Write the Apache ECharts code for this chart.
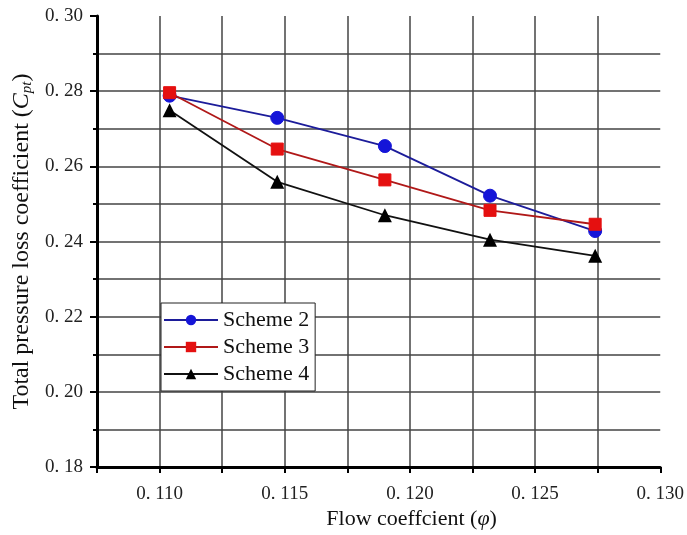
<!DOCTYPE html>
<html><head><meta charset="utf-8">
<script src="https://cdn.jsdelivr.net/npm/echarts@6/dist/echarts.min.js"></script>
<style>html,body{margin:0;padding:0;background:#fff}#c{width:687px;height:535px}</style>
</head><body><div id="c"></div>
<script>
var flowCoef = [0.1104, 0.1147, 0.1190, 0.1232, 0.1274];
var scheme2 = [0.2788, 0.2729, 0.2654, 0.2522, 0.2428];
var scheme3 = [0.2796, 0.2646, 0.2564, 0.2483, 0.2446];
var scheme4 = [0.2749, 0.2559, 0.2470, 0.2405, 0.2362];
var seriesNames = ['Scheme 2', 'Scheme 3', 'Scheme 4'];

function pairs(ys){ return flowCoef.map(function(x,i){ return [x, ys[i]]; }); }
var font = 'Liberation Serif';
var chart = echarts.init(document.getElementById('c'));
chart.setOption({
  animation: false,
  backgroundColor: '#fff',
  grid: {left: 97, right: 26, top: 16, bottom: 67},
  legend: {
    left: 161, top: 303, orient: 'vertical', itemWidth: 54, itemHeight: 13, itemGap: 5,
    padding: [6, 6, 6, 2], backgroundColor: '#fff', borderColor: '#222', borderWidth: 1,
    textStyle: {fontFamily: font, fontSize: 22, color: '#111', padding: [0, 0, 0, 0]},
    data: seriesNames
  },
  xAxis: {
    type: 'value', min: 0.1075, max: 0.130, interval: 0.0025,
    name: 'Flow coeffcient ({i|φ})', nameLocation: 'middle', nameGap: 39,
    nameTextStyle: {fontFamily: font, fontSize: 22, color: '#111', padding: [0, 0, 0, 66],
      rich: {i: {fontFamily: font, fontStyle: 'italic', fontSize: 22, color: '#111'}}},
    axisLine: {lineStyle: {color: '#000', width: 3}},
    axisTick: {show: true, inside: false, length: 6, lineStyle: {color: '#000', width: 2}},
    axisLabel: {fontFamily: font, fontSize: 19, color: '#222', margin: 17,
      formatter: function(v){ var k = Math.round(v*10000); return (k % 50 === 0) ? '0. ' + Math.round(v*1000) : ''; }},
    splitLine: {show: true, showMinLine: false, showMaxLine: false, lineStyle: {color: '#444', width: 1.5}}
  },
  yAxis: {
    type: 'value', min: 0.18, max: 0.30, interval: 0.02,
    name: 'Total pressure loss coefficient ({i|C}{s|pt})', nameLocation: 'middle', nameGap: 57,
    nameTextStyle: {fontFamily: font, fontSize: 24, color: '#111', padding: [0, 0, 0, 0],
      rich: {i: {fontFamily: font, fontStyle: 'italic', fontSize: 24, color: '#111'},
             s: {fontFamily: font, fontStyle: 'italic', fontSize: 15, color: '#111', verticalAlign: 'bottom', padding: [10,0,0,0]}}},
    axisLine: {lineStyle: {color: '#000', width: 3}},
    axisTick: {show: true, inside: false, length: 7, lineStyle: {color: '#000', width: 2}},
    minorTick: {show: true, splitNumber: 2, length: 4, lineStyle: {color: '#000', width: 2}},
    axisLabel: {fontFamily: font, fontSize: 19, color: '#222', margin: 14,
      formatter: function(v){ var s = Math.round(v*100); return '0. ' + s; }},
    splitLine: {show: true, showMinLine: false, showMaxLine: false, lineStyle: {color: '#444', width: 1.5}},
    minorSplitLine: {show: true, lineStyle: {color: '#444', width: 1.5}}
  },
  series: [
    {name: seriesNames[0], type: 'line', data: pairs(scheme2), symbol: 'circle', symbolSize: 13,
     lineStyle: {color: '#1c1c9a', width: 1.8}, itemStyle: {color: '#1515d8', borderColor: '#1515d8'}, z: 3},
    {name: seriesNames[1], type: 'line', data: pairs(scheme3), symbol: 'rect', symbolSize: 12,
     lineStyle: {color: '#b01818', width: 1.8}, itemStyle: {color: '#e51010', borderColor: '#e51010'}, z: 4},
    {name: seriesNames[2], type: 'line', data: pairs(scheme4), symbol: 'triangle', symbolSize: 14,
     lineStyle: {color: '#111', width: 1.8}, itemStyle: {color: '#000'}, z: 2}
  ]
});
</script></body></html>
